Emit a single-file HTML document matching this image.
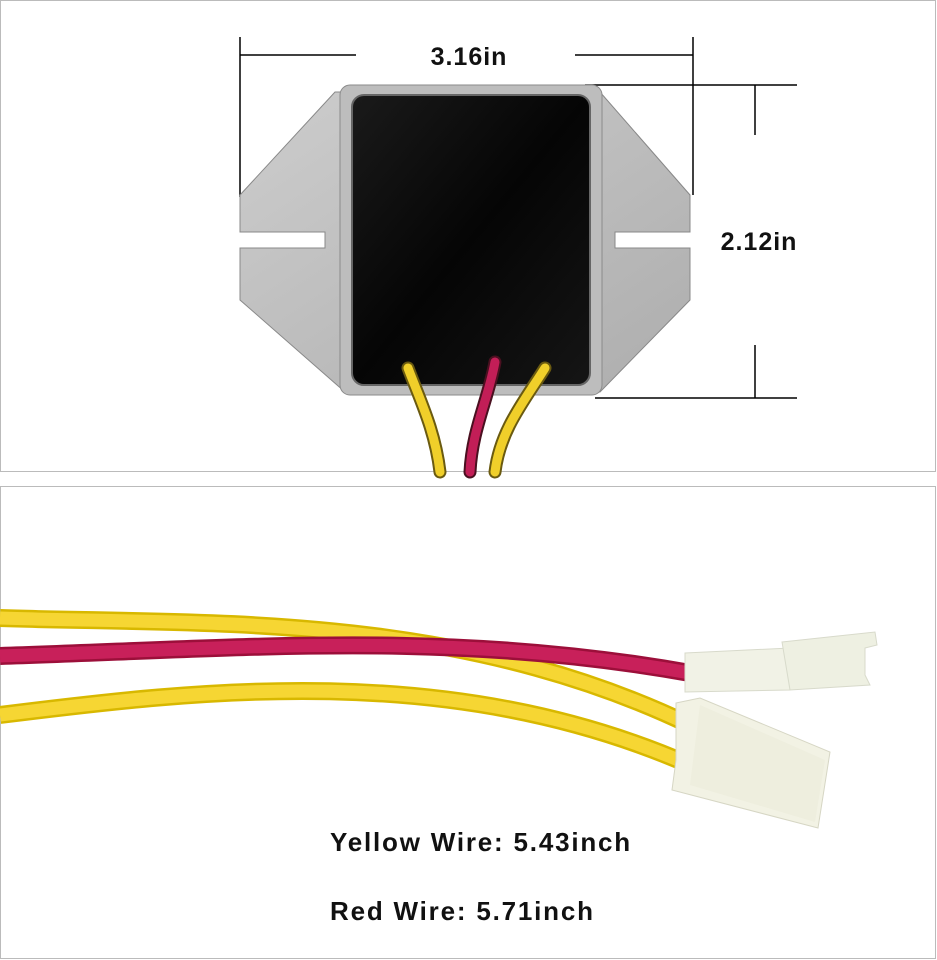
<!DOCTYPE html>
<html><head><meta charset="utf-8"><style>
html,body{margin:0;padding:0;background:#fff;}
svg{display:block;}
text{font-family:"Liberation Sans",sans-serif;font-weight:bold;fill:#111;}
</style></head><body>
<svg width="937" height="960" viewBox="0 0 937 960" xmlns="http://www.w3.org/2000/svg">
<defs>
<linearGradient id="met" x1="0" y1="0" x2="1" y2="1"><stop offset="0" stop-color="#cdcdcd"/><stop offset="1" stop-color="#adadad"/></linearGradient>
<linearGradient id="blk" x1="0" y1="0" x2="1" y2="1"><stop offset="0" stop-color="#1a1a1a"/><stop offset="0.5" stop-color="#050505"/><stop offset="1" stop-color="#151515"/></linearGradient>
</defs>
<rect x="0.5" y="0.5" width="935" height="471" fill="#fff" stroke="#bbb"/>
<rect x="0.5" y="486.5" width="935" height="472" fill="#fff" stroke="#bbb"/>
<g stroke="#000" stroke-width="1.5">
<line x1="240" y1="37" x2="240" y2="197"/><line x1="240" y1="55" x2="356" y2="55"/>
<line x1="575" y1="55" x2="693" y2="55"/><line x1="693" y1="37" x2="693" y2="195"/>
<line x1="585" y1="85" x2="797" y2="85"/><line x1="595" y1="398" x2="797" y2="398"/>
<line x1="755" y1="85" x2="755" y2="135"/><line x1="755" y1="345" x2="755" y2="398"/>
</g>
<text x="469" y="65" font-size="25" letter-spacing="1" text-anchor="middle">3.16in</text>
<text x="759" y="250" font-size="25" letter-spacing="1" text-anchor="middle">2.12in</text>
<path d="M240,195 L335,92 L600,92 L690,195 L690,232 L615,232 L615,248 L690,248 L690,300 L600,392 L345,392 L240,300 L240,248 L325,248 L325,232 L240,232 Z" fill="url(#met)" stroke="#888"/>
<rect x="340" y="85" width="262" height="310" rx="10" fill="#bdbdbd" stroke="#8a8a8a"/>
<rect x="352" y="95" width="238" height="290" rx="12" fill="url(#blk)" stroke="#666" stroke-width="2"/>
<g fill="none" stroke-linecap="round">
<path d="M408,368 C420,400 435,430 440,472" stroke="#6a5a10" stroke-width="13"/>
<path d="M408,368 C420,400 435,430 440,472" stroke="#f0cf2a" stroke-width="9"/>
<path d="M495,362 C488,400 472,430 470,472" stroke="#4a1020" stroke-width="13"/>
<path d="M495,362 C488,400 472,430 470,472" stroke="#c21e57" stroke-width="9"/>
<path d="M545,368 C525,400 500,430 495,472" stroke="#6a5a10" stroke-width="13"/>
<path d="M545,368 C525,400 500,430 495,472" stroke="#f0cf2a" stroke-width="9"/>
</g>
<g fill="none" stroke-linecap="butt">
<path d="M0,618 C200,625 450,610 690,725" stroke="#d8b800" stroke-width="18"/>
<path d="M0,618 C200,625 450,610 690,725" stroke="#f6d633" stroke-width="13"/>
<path d="M0,656 C250,648 450,630 690,673" stroke="#9c0f3a" stroke-width="18"/>
<path d="M0,656 C250,648 450,630 690,673" stroke="#c8205a" stroke-width="13"/>
<path d="M0,715 C200,690 450,660 690,765" stroke="#d8b800" stroke-width="18"/>
<path d="M0,715 C200,690 450,660 690,765" stroke="#f6d633" stroke-width="13"/>
</g>
<path d="M685,653 L790,648 L790,690 L685,692 Z" fill="#f1f2e6" stroke="#d8dacb"/>
<path d="M782,642 L875,632 L877,645 L865,648 L865,675 L870,685 L790,690 Z" fill="#eef0e2" stroke="#d8dacb"/>
<path d="M676,703 L700,698 L830,752 L818,828 L672,790 L676,760 Z" fill="#f2f2e4" stroke="#d6d6c4"/>
<path d="M700,705 L825,760 L815,822 L690,785 Z" fill="#ececdc" opacity="0.7"/>
<text x="330" y="851" font-size="26" letter-spacing="1.8">Yellow Wire: 5.43inch</text>
<text x="330" y="920" font-size="26" letter-spacing="1.8">Red Wire: 5.71inch</text>
</svg>
</body></html>
